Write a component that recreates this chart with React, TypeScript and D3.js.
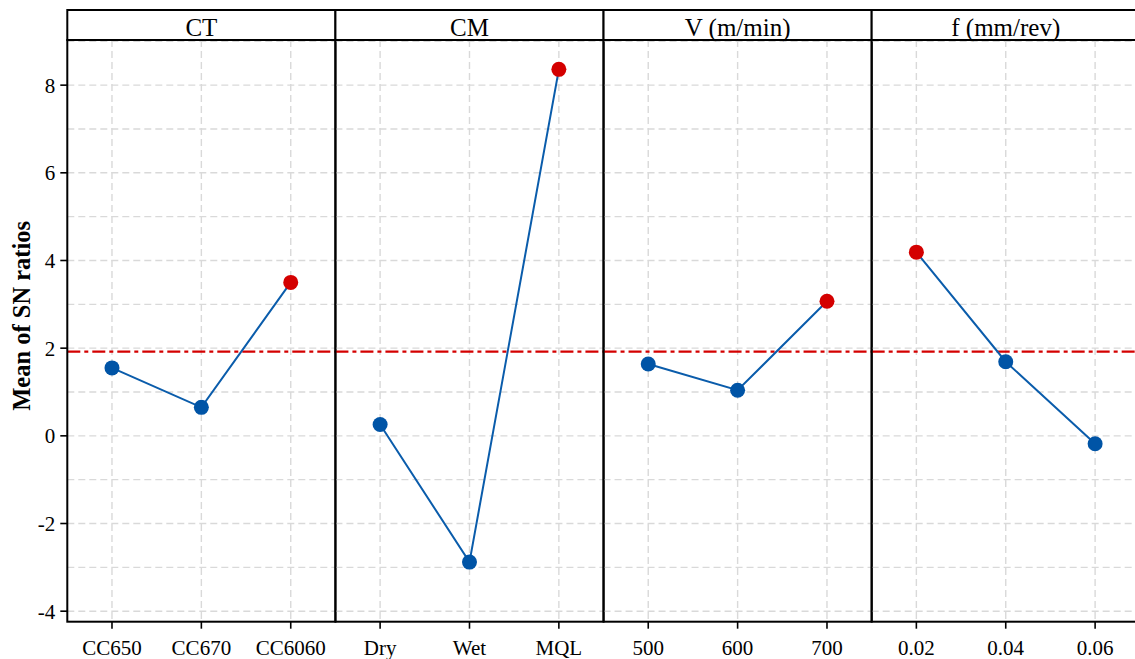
import { scaleBand, scaleLinear, scalePoint, line, range } from 'd3';
import React from 'react';

// factor names (facet strips)
const factors = ['CT', 'CM', 'V (m/min)', 'f (mm/rev)'];

// levels of each factor
const ctLevels = ['CC650', 'CC670', 'CC6060'];
const cmLevels = ['Dry', 'Wet', 'MQL'];
const vLevels = ['500', '600', '700'];
const fLevels = ['0.02', '0.04', '0.06'];

// mean of SN ratios per level
const ctMeans = [1.55, 0.65, 3.5];
const cmMeans = [0.26, -2.88, 8.36];
const vMeans = [1.64, 1.04, 3.07];
const fMeans = [4.19, 1.69, -0.18];

// overall mean of SN ratios
const grandMean = 1.92;

const yTicks = [-4, -2, 0, 2, 4, 6, 8];

const width = 1135;
const height = 659;
const panelTop = 40;
const panelBottom = 621.7;
const stripTop = 10;
const panelLeft = 67.3;
const panelRight = 1139.8;

const levelSets = [ctLevels, cmLevels, vLevels, fLevels];
const meanSets = [ctMeans, cmMeans, vMeans, fMeans];

const serif = '"Liberation Serif", "Times New Roman", serif';

const App = () => {
	const yScale = scaleLinear().domain([-4.24, 9.03]).range([panelBottom, panelTop]);
	const panelScale = scaleBand().domain(factors).range([panelLeft, panelRight]).paddingInner(0);
	const pw = panelScale.bandwidth();
	const gridYs = range(-4, 10, 1);

	return (
		<svg
			width={width}
			height={height}
			style={{ position: 'absolute', left: 0, top: 0, background: '#fff' }}
			fontFamily={serif}
		>
			{factors.map((fac, i) => {
				const levels = levelSets[i];
				const means = meanSets[i];
				const x0 = panelScale(fac) || 0;
				const xScale = scalePoint().domain(levels).range([0, pw]).padding(0.5);
				const best = means.indexOf(Math.max(...means));
				const path = line<number>()
					.x((_, j) => xScale(levels[j]) || 0)
					.y(d => yScale(d))(means);
				return (
					<g key={fac} transform={`translate(${x0},0)`}>
						{gridYs.map(v => (
							<line
								key={'h' + v}
								x1={0}
								x2={pw}
								y1={yScale(v)}
								y2={yScale(v)}
								stroke="#d9d9d9"
								strokeWidth={1.4}
								strokeDasharray="7 4"
							/>
						))}
						{levels.map(l => (
							<line
								key={'v' + l}
								x1={xScale(l)}
								x2={xScale(l)}
								y1={panelTop}
								y2={panelBottom}
								stroke="#d9d9d9"
								strokeWidth={1.4}
								strokeDasharray="7 4"
							/>
						))}
						<line
							x1={0}
							x2={pw}
							y1={yScale(grandMean)}
							y2={yScale(grandMean)}
							stroke="#d40000"
							strokeWidth={2.2}
							strokeDasharray="13 4 4 4"
						/>
						<path d={path || ''} fill="none" stroke="#0a5cab" strokeWidth={2} />
						{means.map((m, j) => (
							<circle
								key={levels[j]}
								cx={xScale(levels[j])}
								cy={yScale(m)}
								r={7.5}
								fill={j === best ? '#d40000' : '#0054a6'}
							/>
						))}
						<rect
							x={0}
							y={panelTop}
							width={pw}
							height={panelBottom - panelTop}
							fill="none"
							stroke="#000"
							strokeWidth={2}
						/>
						<rect
							x={0}
							y={stripTop}
							width={pw}
							height={panelTop - stripTop}
							fill="#fff"
							stroke="#000"
							strokeWidth={2}
						/>
						<text x={pw / 2} y={36} textAnchor="middle" fontSize={25}>
							{fac}
						</text>
						{levels.map(l => (
							<g key={'t' + l} transform={`translate(${xScale(l)},0)`}>
								<line y1={panelBottom} y2={panelBottom + 7} stroke="#000" strokeWidth={1.6} />
								<text y={655} textAnchor="middle" fontSize={21}>
									{l}
								</text>
							</g>
						))}
					</g>
				);
			})}
			{yTicks.map(t => (
				<g key={t} transform={`translate(${panelLeft},${yScale(t)})`}>
					<line x1={-7} x2={0} stroke="#000" strokeWidth={1.6} />
					<text x={-12} dy="0.35em" textAnchor="end" fontSize={21}>
						{t}
					</text>
				</g>
			))}
			<text
				transform={`translate(30,${(stripTop + panelBottom) / 2}) rotate(-90)`}
				textAnchor="middle"
				fontSize={24.5}
				fontWeight="bold"
			>
				Mean of SN ratios
			</text>
		</svg>
	);
};

export default App;
